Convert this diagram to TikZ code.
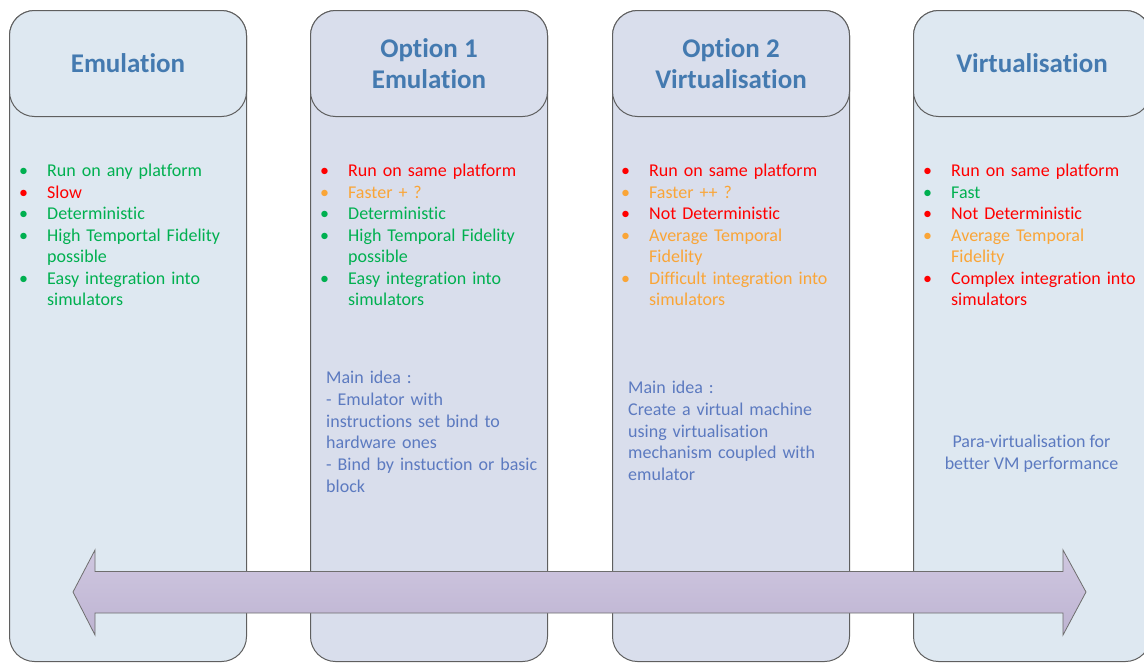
\documentclass[tikz,border=0pt]{standalone}
\usepackage{fontspec}
\setmainfont[Ligatures=NoCommon]{Carlito}

\definecolor{panelblue}{RGB}{222,232,241}
\definecolor{panellilac}{RGB}{217,222,236}
\definecolor{framegray}{RGB}{95,95,95}
\definecolor{titleblue}{RGB}{68,122,176}
\definecolor{ideablue}{RGB}{92,122,192}
\definecolor{okgreen}{RGB}{0,176,80}
\definecolor{badred}{RGB}{255,0,0}
\definecolor{midorange}{RGB}{250,165,55}
\definecolor{arrowtop}{RGB}{207,199,224}
\definecolor{arrowbot}{RGB}{190,180,210}
\definecolor{arrowedge}{RGB}{110,110,110}

% one coloured bullet point with a hanging indent
\newcommand\bitem[2]{\par\hangindent=28pt\hangafter=1\noindent
  \makebox[28pt][l]{\textcolor{#1}{\textbullet}}\textcolor{#1}{#2}\par}

\begin{document}
\begin{tikzpicture}[x=1pt,y=-1pt,
  column/.style={draw=framegray, line width=1pt, rounded corners=25pt,
    minimum width=237pt, minimum height=651pt, inner sep=0pt, anchor=north west},
  header/.style={draw=framegray, line width=1pt, rounded corners=25pt,
    minimum width=237pt, minimum height=106pt, inner sep=0pt, anchor=north west,
    align=center, text=titleblue, font=\fontsize{27}{31}\selectfont\bfseries},
  pros/.style={anchor=north west, inner sep=0pt, text width=230pt,
    font=\fontsize{18}{21.5}\selectfont},
  idea/.style={anchor=north west, inner sep=0pt, text width=220pt, align=left,
    text=ideablue, font=\fontsize{18}{21.7}\selectfont},
  spectrum/.style={draw=arrowedge, line width=0.8pt, top color=arrowtop, bottom color=arrowbot}
]
\useasboundingbox (0,0) rectangle (1144,662);
\clip (0,0) rectangle (1144,662);

% column bodies
\node[column, fill=panelblue]  (col1) at (9,10) {};
\node[column, fill=panellilac] (col2) at (310,10) {};
\node[column, fill=panellilac] (col3) at (612,10) {};
\node[column, fill=panelblue]  (col4) at (913,10) {};

% column headers
\node[header, fill=panelblue]  (head1) at (9,10)   {Emulation};
\node[header, fill=panellilac] (head2) at (310,10) {Option 1\\Emulation};
\node[header, fill=panellilac] (head3) at (612,10) {Option 2\\Virtualisation};
\node[header, fill=panelblue]  (head4) at (913,10) {Virtualisation};

% properties
\node[pros] (pros1) at (19,155) {%
  \bitem{okgreen}{Run on any platform}
  \bitem{badred}{Slow}
  \bitem{okgreen}{Deterministic}
  \bitem{okgreen}{High Temportal Fidelity\newline possible}
  \bitem{okgreen}{Easy integration into\newline simulators}};
\node[pros] (pros2) at (320,155) {%
  \bitem{badred}{Run on same platform}
  \bitem{midorange}{Faster + ?}
  \bitem{okgreen}{Deterministic}
  \bitem{okgreen}{High Temporal Fidelity\newline possible}
  \bitem{okgreen}{Easy integration into\newline simulators}};
\node[pros] (pros3) at (621,155) {%
  \bitem{badred}{Run on same platform}
  \bitem{midorange}{Faster ++ ?}
  \bitem{badred}{Not Deterministic}
  \bitem{midorange}{Average Temporal\newline Fidelity}
  \bitem{midorange}{Difficult integration into\newline simulators}};
\node[pros] (pros4) at (923,155) {%
  \bitem{badred}{Run on same platform}
  \bitem{okgreen}{Fast}
  \bitem{badred}{Not Deterministic}
  \bitem{midorange}{Average Temporal\newline Fidelity}
  \bitem{badred}{Complex integration into\newline simulators}};

% main ideas
\node[idea] (idea2) at (326,371) {Main idea :\\- Emulator with\\instructions set bind to\\hardware ones\\- Bind by instuction or basic\\block};
\node[idea] (idea3) at (628,381) {Main idea :\\Create a virtual machine\\using virtualisation\\mechanism coupled with\\emulator};
\node[anchor=north, inner sep=0pt, align=center, text=ideablue,
  font=\fontsize{18}{21.7}\selectfont] (idea4) at (1031.5,435)
  {Para-virtualisation for\\better VM performance};

% spectrum arrow from emulation to virtualisation
\path[spectrum] (73,592) -- (95,550) -- (95,571.5) -- (1063,571.5) -- (1063,550)
  -- (1086,592) -- (1063,635) -- (1063,613) -- (95,613) -- (95,635) -- cycle;
\end{tikzpicture}
\end{document}
